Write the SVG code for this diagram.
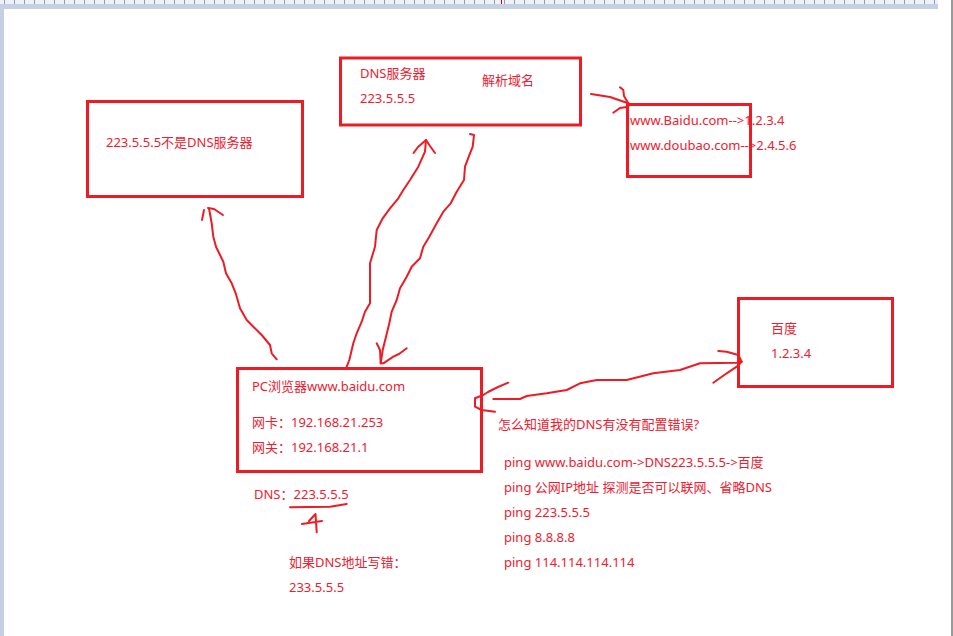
<svg xmlns="http://www.w3.org/2000/svg" width="953" height="636" viewBox="0 0 953 636">
<defs>
<pattern id="ticks" x="4" y="0" width="10" height="4" patternUnits="userSpaceOnUse">
<rect x="0" y="0" width="1" height="4" fill="#8c9cb8"/>
</pattern>
</defs>
<style>
.box{fill:none;stroke:#ed1c24;stroke-width:3}
.t{font-family:"Noto Sans","Noto Sans CJK SC",sans-serif;font-size:13px;fill:#ee2030}
.hand{fill:none;stroke:#ed1c24;stroke-width:2;stroke-linecap:round;stroke-linejoin:round}
</style>
<rect width="953" height="636" fill="#ffffff"/>
<g id="chrome">
<rect x="0" y="0" width="938" height="4" fill="#eef1f8"/>
<rect x="0" y="0" width="938" height="4" fill="url(#ticks)"/>
<rect x="501" y="0" width="1" height="4" fill="#e00000"/>
<rect x="0" y="4" width="938" height="5" fill="#c5d0e3"/>
<rect x="0" y="4" width="4" height="632" fill="#c5d0e3"/>
<rect x="951" y="0" width="2" height="636" fill="#9a9a9a"/>
</g>
<g id="dns-server">
<rect class="box" x="340.5" y="58" width="240" height="67"/>
<text class="t" x="360" y="78">DNS服务器</text>
<text class="t" x="360" y="103">223.5.5.5</text>
<text class="t" x="482" y="85">解析域名</text>
</g>
<g id="wrong-dns">
<rect class="box" x="87.5" y="101.5" width="215" height="95"/>
<text class="t" x="106" y="147">223.5.5.5不是DNS服务器</text>
</g>
<g id="records">
<rect class="box" x="627.5" y="104.5" width="123" height="72"/>
<text class="t" x="630" y="125">www.Baidu.com--&gt;1.2.3.4</text>
<text class="t" x="630" y="150">www.doubao.com--&gt;2.4.5.6</text>
<text class="t" x="630" y="176" style="font-size:8px">..</text>
</g>
<g id="pc">
<rect class="box" x="237.5" y="368.5" width="244" height="103"/>
<text class="t" x="252" y="391">PC浏览器www.baidu.com</text>
<text class="t" x="252" y="427">网卡：192.168.21.253</text>
<text class="t" x="252" y="452">网关：192.168.21.1</text>
</g>
<g id="baidu">
<rect class="box" x="738.5" y="298.5" width="154" height="88"/>
<text class="t" x="771" y="333">百度</text>
<text class="t" x="771" y="358">1.2.3.4</text>
</g>
<g id="notes">
<text class="t" x="254" y="499">DNS：223.5.5.5</text>
<text class="t" x="289" y="567">如果DNS地址写错：</text>
<text class="t" x="289" y="592">233.5.5.5</text>
<text class="t" x="498" y="429">怎么知道我的DNS有没有配置错误?</text>
<text class="t" x="504" y="467">ping www.baidu.com-&gt;DNS223.5.5.5-&gt;百度</text>
<text class="t" x="504" y="492">ping 公网IP地址 探测是否可以联网、省略DNS</text>
<text class="t" x="504" y="517">ping 223.5.5.5</text>
<text class="t" x="504" y="542">ping 8.8.8.8</text>
<text class="t" x="504" y="567">ping 114.114.114.114</text>
</g>
<g id="connectors">
<path class="hand" d="M276.7,359.3 L271.7,353.3 L270,345 L261.7,335 L253.3,326.7 L246.7,320 L240,308.3 L235.7,293.3 L231.7,283.3 L226,273.3 L223.3,261.7 L216,246.7 L213.3,236.7 L211.7,223.3 L209,208.5"/>
<path class="hand" d="M202,220 L204,210 M208,208 L214,209 L223,215"/>
<path class="hand" d="M346.7,366.7 L349.3,360 L353.3,343.3 L356.7,333.3 L361.7,321.7 L365,311.7 L370,303.3 L370,263.3 L375,246.7 L376.7,230 L382.7,218.3 L390,208.3 L398.3,198.3 L403.3,190 L410,180 L418.3,166.7 L425,151.7 L426,140"/>
<path class="hand" d="M413.5,153 L418,147 L426,140 L430,146 L435,153"/>
<path class="hand" d="M470,134 L474,135 L472.7,146.7 L470,153.3 L465,166.7 L464,180 L456.7,191.7 L450.7,203.3 L443.3,211.7 L436.7,223.3 L429.3,236.7 L423.3,246.7 L420,258.3 L411.7,266.7 L406.7,276.7 L400,288.3 L396.7,300 L391.7,311.7 L389.3,323.3 L386,336.7 L382.7,350 L380.7,363.3"/>
<path class="hand" d="M376.7,343.3 L380,350 L380.7,363.3 L383.3,363.3 L393.3,356.7 L399,354 L406.7,348.3"/>
<path class="hand" d="M591,94 L610,97 L628.3,103.3"/>
<path class="hand" d="M620,87.3 L623.3,90 L624,96 L628.3,103.3 M613.3,112.7 L620,108 L628.3,106.7"/>
<path class="hand" d="M493.3,399 L520,399 L526.7,396 L546.7,393.3 L566.7,390 L580,383.3 L596.7,380 L626.7,380 L653.3,373.3 L680,370 L700,363.3 L736.7,362.7 L741.7,361.7"/>
<path class="hand" d="M718.3,351 L726.7,351.7 L738.3,355 L741.7,361.7 L736.7,366.7 L726.7,373.3 L713.3,382.7"/>
<path class="hand" d="M508.3,382.7 L498,387 L488,392 L483.3,395 L475,398.3 L475,406.7 L481.7,410 L495,411.7"/>
<path class="hand" d="M290,507.3 L330,506.7 L346.7,504"/>
<path class="hand" d="M302,524 L322,521 M316.7,532.3 L315.5,514 L309,521"/>
</g>
</svg>
